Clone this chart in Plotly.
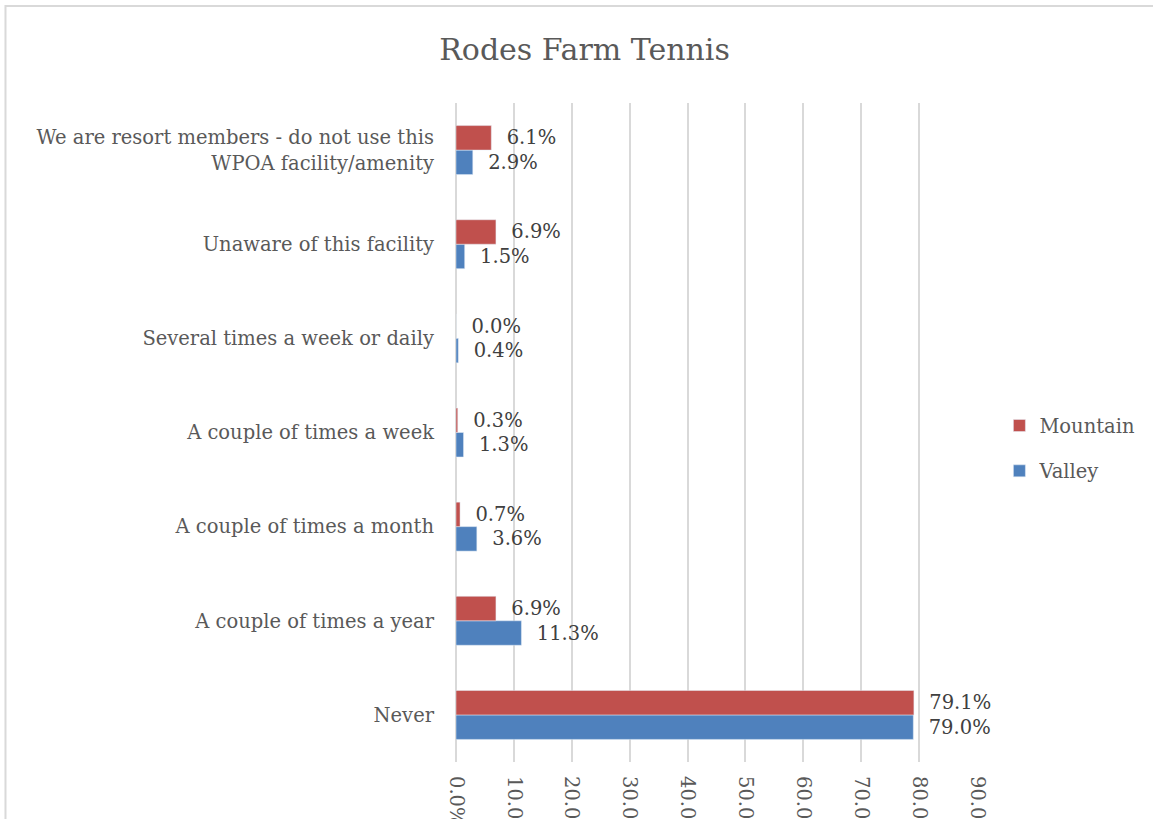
import plotly.graph_objects as go

# categories listed bottom -> top
categorias = [
    "Never",
    "A couple of times a year",
    "A couple of times a month",
    "A couple of times a week",
    "Several times a week or daily",
    "Unaware of this facility",
    "We are resort members - do not use this<br>WPOA facility/amenity",
]
valley = [79.0, 11.3, 3.6, 1.3, 0.4, 1.5, 2.9]
mountain = [79.1, 6.9, 0.7, 0.3, 0.0, 6.9, 6.1]
ticks = [0, 10, 20, 30, 40, 50, 60, 70, 80, 90]
tick_labels = [f"{t:.1f}%" for t in ticks]

FONTE = "DejaVu Serif, serif"
CINZA = "#595959"

fig = go.Figure()

# Valley primeiro para ficar embaixo no grupo; legendrank põe Mountain em cima na legenda
for nome, valores, cor, rank in [("Valley", valley, "#4F81BD", 2), ("Mountain", mountain, "#C0504D", 1)]:
    fig.add_trace(go.Bar(
        y=categorias,
        x=valores,
        name=nome,
        orientation='h',
        marker=dict(color=cor),
        text=[f"  {v:.1f}%" for v in valores],
        textposition='outside',
        constraintext='none',
        cliponaxis=False,
        textfont=dict(family=FONTE, size=19.5, color="#404040"),
        legendgroup=nome,
        legendrank=rank,
    ))

fig.update_layout(
    width=1153,
    height=819,
    title=dict(
        text="Rodes Farm Tennis",
        x=0.507, xanchor='center',
        y=0.94, yanchor='middle',
        font=dict(family=FONTE, size=30, color=CINZA)
    ),
    barmode='group',
    bargap=0.48,
    bargroupgap=0,
    xaxis=dict(
        range=[0, 90],
        tickvals=ticks,
        ticktext=tick_labels,
        tickangle=90,
        showgrid=True,
        gridcolor='#D9D9D9',
        gridwidth=2,
        zeroline=True,
        zerolinecolor='#D9D9D9',
        zerolinewidth=2,
        ticklabelstandoff=13,
        automargin=False,
        tickfont=dict(family=FONTE, size=19.5, color=CINZA),
    ),
    yaxis=dict(
        categoryorder='array',
        categoryarray=categorias,
        showgrid=False,
        ticklabelstandoff=21,
        automargin=False,
        tickfont=dict(family=FONTE, size=19.5, color=CINZA),
    ),
    legend=dict(
        traceorder='grouped',
        tracegroupgap=17,
        x=1.043, xanchor='left',
        y=0.476, yanchor='middle',
        itemwidth=30,
        font=dict(family=FONTE, size=19.5, color=CINZA),
    ),
    shapes=[dict(
        type='rect', xref='paper', yref='paper',
        x0=-0.8647, x1=1.5, y0=-0.5, y1=1.1472,
        line=dict(color='#D9D9D9', width=2),
        layer='below'
    )],
    paper_bgcolor='white',
    plot_bgcolor='white',
    margin=dict(l=456, r=176, t=103, b=57, autoexpand=False),
)

fig.write_html("out.html", config={'displayModeBar': False},
               post_script="document.body.style.margin='0';")
